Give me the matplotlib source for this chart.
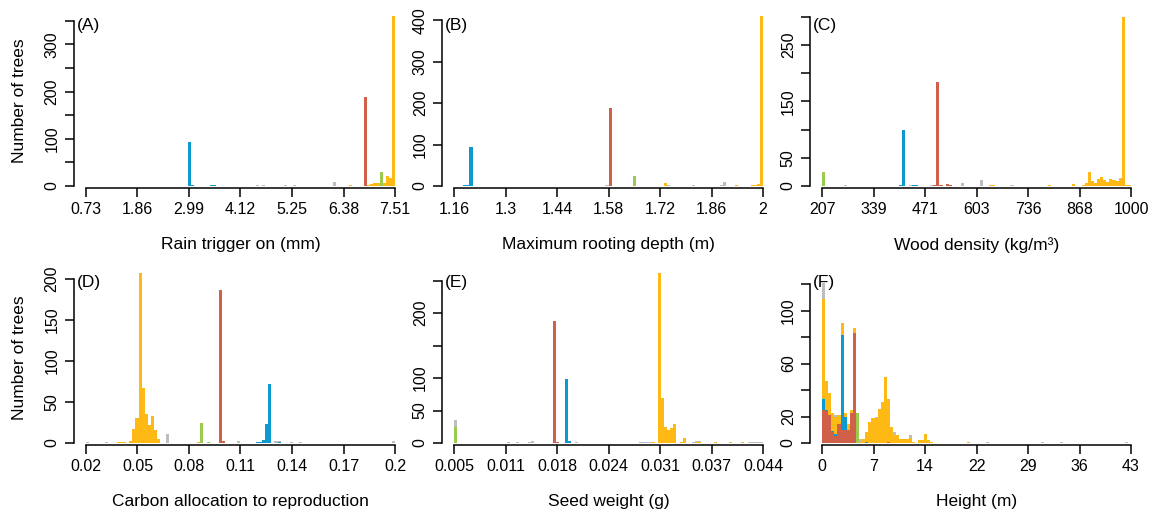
import numpy as np
import matplotlib.pyplot as plt

plt.rcParams['font.family'] = ['Liberation Sans', 'DejaVu Sans']

# stack order, bottom to top
group_colors = ['#D0604A', '#0C9AD0', '#9ACB4E', '#FFB915', '#BEBEBE']

# (A) rain trigger on (mm): (value, number of trees)
rain_red = [(6.866, 188)]
rain_blue = [(2.933, 1), (3.001, 93), (3.069, 2), (3.137, 1), (3.205, 1), (3.340, 1), (3.476, 2), (3.544, 2)]
rain_green = [(7.205, 29)]
rain_orange = [(5.578, 1), (5.646, 1), (5.713, 1), (6.324, 1), (6.391, 1), (6.527, 3), (6.934, 2), (7.002, 4),
               (7.069, 6), (7.137, 6), (7.273, 7), (7.340, 21), (7.408, 18), (7.476, 360)]
rain_grey = [(0.764, 1), (1.442, 1), (1.781, 1), (2.527, 1), (4.289, 1), (4.493, 2), (4.629, 2), (4.832, 1),
             (5.103, 2), (5.306, 3), (5.984, 1), (6.188, 9)]

# (B) maximum rooting depth (m)
root_red = [(1.5590, 1), (1.5674, 1), (1.5842, 187)]
root_blue = [(1.1894, 2), (1.1978, 3), (1.2062, 93), (1.2146, 1)]
root_green = [(1.6514, 25)]
root_orange = [(1.4666, 1), (1.7102, 1), (1.7186, 1), (1.7354, 8), (1.7606, 1), (1.7942, 1), (1.8446, 1),
               (1.8530, 1), (1.8614, 1), (1.9118, 1), (1.9286, 2), (1.9370, 1), (1.9538, 1), (1.9622, 1),
               (1.9706, 2), (1.9790, 2), (1.9874, 5), (1.9958, 410)]
root_grey = [(1.1642, 1), (1.3574, 1), (1.5758, 2), (1.7438, 2), (1.8110, 2), (1.8866, 2), (1.8950, 10)]

# (C) wood density (kg/m3)
wood_red = [(496.4, 1), (504.4, 184), (512.3, 1), (528.2, 3), (536.1, 1)]
wood_blue = [(409.2, 1), (417.2, 99), (441.0, 1), (448.9, 1)]
wood_green = [(211.0, 25)]
wood_orange = [(639.2, 2), (647.1, 1), (789.9, 1), (853.3, 4), (877.1, 2), (885.0, 5), (893.0, 24), (900.9, 9),
               (908.8, 5), (916.7, 12), (924.7, 16), (932.6, 11), (940.5, 7), (948.5, 12), (956.4, 11),
               (964.3, 9), (972.2, 13), (980.2, 300), (988.1, 1), (996.0, 2)]
wood_grey = [(266.5, 1), (433.0, 2), (488.5, 1), (567.8, 5), (615.4, 11), (694.7, 1), (972.2, 2)]

# (D) carbon allocation to reproduction
carb_red = [(0.0983, 186), (0.1001, 2)]
carb_blue = [(0.1199, 1), (0.1217, 1), (0.1235, 4), (0.1253, 23), (0.1271, 72), (0.1325, 1)]
carb_green = [(0.0875, 24), (0.0911, 1)]
carb_orange = [(0.0389, 1), (0.0407, 1), (0.0425, 1), (0.0461, 2), (0.0479, 17), (0.0497, 30), (0.0515, 207),
               (0.0533, 67), (0.0551, 35), (0.0569, 22), (0.0587, 33), (0.0605, 16), (0.0623, 5), (0.0857, 1)]
carb_grey = [(0.0209, 1), (0.0317, 1), (0.0677, 11), (0.1091, 3), (0.1307, 2), (0.1325, 1), (0.1397, 1),
             (0.1451, 1), (0.1991, 2)]

# (E) seed weight (g)
seed_red = [(0.017675, 188), (0.018065, 2)]
seed_blue = [(0.019235, 99), (0.019625, 3)]
seed_green = [(0.005195, 24)]
seed_orange = [(0.030155, 1), (0.030935, 262), (0.031325, 69), (0.031715, 24), (0.032105, 20), (0.032495, 23),
               (0.032885, 30), (0.033665, 1), (0.034055, 8), (0.035615, 1), (0.036005, 2), (0.037955, 1),
               (0.039905, 2), (0.041465, 1)]
seed_grey = [(0.005195, 12), (0.011825, 1), (0.012995, 1), (0.014555, 1), (0.014945, 3), (0.020405, 1),
             (0.028595, 1), (0.028985, 2), (0.029375, 1), (0.029765, 1), (0.035225, 1), (0.035615, 2),
             (0.036005, 1), (0.042245, 1), (0.042635, 1), (0.043025, 2), (0.043415, 1), (0.043805, 2)]

# (F) height (m)
height_red = [(0.215, 25), (0.645, 24), (1.075, 21), (1.505, 8), (1.935, 5), (2.365, 14), (2.795, 10),
              (3.225, 10), (3.655, 10), (4.085, 23), (4.515, 83), (9.245, 1)]
height_blue = [(0.215, 8), (0.645, 1), (1.505, 1), (1.935, 2), (2.795, 72), (3.225, 10), (6.235, 1)]
height_green = [(0.215, 1), (4.945, 23)]
height_orange = [(0.215, 75), (0.645, 22), (1.075, 17), (1.505, 14), (1.935, 13), (2.365, 7), (2.795, 9),
                 (3.225, 3), (3.655, 4), (4.085, 2), (4.515, 4), (5.375, 1), (5.805, 3), (6.235, 7),
                 (6.665, 16), (7.095, 19), (7.525, 19), (7.955, 26), (8.385, 31), (8.815, 50), (9.245, 32),
                 (9.675, 12), (10.105, 6), (10.535, 6), (10.965, 3), (11.395, 3), (11.825, 3), (12.255, 4),
                 (12.685, 1), (13.545, 2), (13.975, 2), (14.405, 7), (14.835, 2), (15.265, 1), (20.425, 1)]
height_grey = [(0.215, 12), (1.935, 1), (5.375, 2), (7.525, 1), (10.105, 2), (12.255, 2), (23.005, 1),
               (30.745, 1), (33.325, 1), (42.355, 1)]

panels = [
    dict(letter='(A)', xlabel='Rain trigger on (mm)', lo=0.73, hi=7.51,
         xticklabels=['0.73', '1.86', '2.99', '4.12', '5.25', '6.38', '7.51'],
         groups=[rain_red, rain_blue, rain_green, rain_orange, rain_grey],
         ytop=360, yticks=[0, 50, 100, 150, 200, 250, 300, 350], ylabeled=[0, 100, 200, 300]),
    dict(letter='(B)', xlabel='Maximum rooting depth (m)', lo=1.16, hi=2.0,
         xticklabels=['1.16', '1.3', '1.44', '1.58', '1.72', '1.86', '2'],
         groups=[root_red, root_blue, root_green, root_orange, root_grey],
         ytop=410, yticks=[0, 100, 200, 300, 400], ylabeled=[0, 100, 200, 300, 400]),
    dict(letter='(C)', xlabel='Wood density (kg/m³)', lo=207, hi=1000,
         xticklabels=['207', '339', '471', '603', '736', '868', '1000'],
         groups=[wood_red, wood_blue, wood_green, wood_orange, wood_grey],
         ytop=301, yticks=[0, 50, 100, 150, 200, 250, 300], ylabeled=[0, 50, 150, 250]),
    dict(letter='(D)', xlabel='Carbon allocation to reproduction', lo=0.02, hi=0.2,
         xticklabels=['0.02', '0.05', '0.08', '0.11', '0.14', '0.17', '0.2'],
         groups=[carb_red, carb_blue, carb_green, carb_orange, carb_grey],
         ytop=207, yticks=[0, 50, 100, 150, 200], ylabeled=[0, 50, 100, 150, 200]),
    dict(letter='(E)', xlabel='Seed weight (g)', lo=0.005, hi=0.044,
         xticklabels=['0.005', '0.011', '0.018', '0.024', '0.031', '0.037', '0.044'],
         groups=[seed_red, seed_blue, seed_green, seed_orange, seed_grey],
         ytop=262, yticks=[0, 50, 100, 150, 200, 250], ylabeled=[0, 50, 100, 200]),
    dict(letter='(F)', xlabel='Height (m)', lo=0, hi=43,
         xticklabels=['0', '7', '14', '22', '29', '36', '43'],
         groups=[height_red, height_blue, height_green, height_orange, height_grey],
         ytop=128.5, yticks=[0, 20, 40, 60, 80, 100, 120], ylabeled=[0, 20, 60, 100]),
]

fig = plt.figure(figsize=(11.54, 5.16), dpi=100)

col_left = [0.06381, 0.38271, 0.70160]
row_bottom = [0.63953, 0.14147]
ax_w, ax_h = 0.28919, 0.32946
fs = 11.5

for i, p in enumerate(panels):
    ax = fig.add_axes([col_left[i % 3], row_bottom[i // 3], ax_w, ax_h])
    lo, hi = p['lo'], p['hi']
    edges = np.linspace(lo, hi, 101)
    vals = [np.array([v for v, n in g]) for g in p['groups']]
    wts = [np.array([n for v, n in g], dtype=float) for g in p['groups']]
    ax.hist(vals, bins=edges, weights=wts, stacked=True, color=group_colors,
            histtype='bar', rwidth=1.0, linewidth=0)

    span = hi - lo
    ax.set_xlim(lo - 0.04 * span, hi + 0.04 * span)
    ax.set_ylim(0, p['ytop'])

    ax.set_xticks(np.linspace(lo, hi, 7))
    ax.set_xticklabels(p['xticklabels'])
    ax.set_yticks(p['yticks'])
    ax.set_yticklabels([str(t) if t in p['ylabeled'] else '' for t in p['yticks']])
    for lab in ax.get_yticklabels():
        lab.set_rotation(90)
        lab.set_va('center')

    ax.tick_params(direction='out', length=6.5, width=1.1, pad=3.5, labelsize=fs, colors='black')
    for side in ('top', 'right'):
        ax.spines[side].set_visible(False)
    ax.spines['left'].set_bounds(0, p['yticks'][-1])
    ax.spines['bottom'].set_bounds(lo, hi)
    ax.spines['bottom'].set_position(('outward', 1.5))
    for side in ('left', 'bottom'):
        ax.spines[side].set_linewidth(1.1)

    ax.set_xlabel(p['xlabel'], fontsize=fs + 1)
    ax.xaxis.set_label_coords(0.5, -0.347)
    ax.xaxis.label.set_va('center')
    if i % 3 == 0:
        ax.set_ylabel('Number of trees', fontsize=fs + 1)
        ax.yaxis.set_label_coords(-0.161, 0.5)
        ax.yaxis.label.set_va('center')

    ax.text(0.011, 0.99, p['letter'], transform=ax.transAxes, ha='left', va='top',
            fontsize=fs + 1, zorder=5)

fig.savefig('out.png', dpi=100)
